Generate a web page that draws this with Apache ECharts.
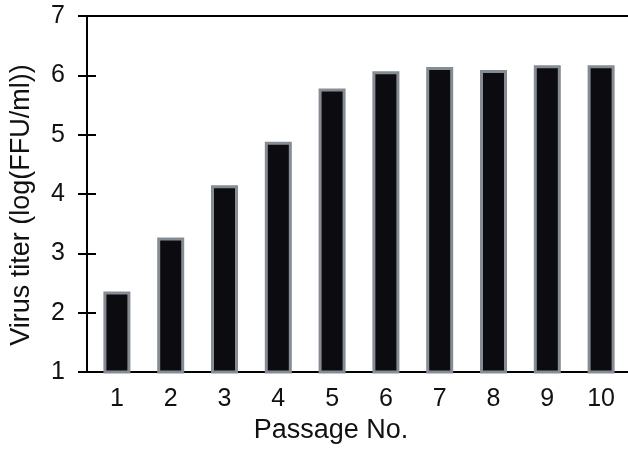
<!DOCTYPE html>
<html>
<head>
<meta charset="utf-8">
<script src="https://cdn.jsdelivr.net/npm/echarts@6/dist/echarts.min.js"></script>
<style>
  html, body { margin: 0; padding: 0; background: #fff; }
  #chart { width: 628px; height: 449px; }
</style>
</head>
<body>
<div id="chart"></div>
<script>
// passage numbers and the titer
const passages = ['1', '2', '3', '4', '5', '6', '7', '8', '9', '10'];
const titers = [2.36, 3.27, 4.15, 4.88, 5.78, 6.07, 6.14, 6.09, 6.17, 6.17];

const yMin = 1;
const yMax = 7;
const yStep = 1;

const font = 'Liberation Sans, Arial, sans-serif';

const chart = echarts.init(document.getElementById('chart'), null, { renderer: 'canvas' });

chart.setOption({
    animation: false,
    grid: { left: 90, right: 0, top: 16, bottom: 75 },
    xAxis: [
        {
            type: 'category',
            data: passages,
            position: 'bottom',
            axisLine: { lineStyle: { color: '#000', width: 2 } },
            axisTick: { show: false },
            axisLabel: { color: '#111', fontSize: 25, fontFamily: font, margin: 15 },
            name: 'Passage No.',
            nameLocation: 'middle',
            nameGap: 44,
            nameTextStyle: { color: '#111', fontSize: 27, fontFamily: font, padding: [0, 56, 0, 0] }
        },
        {
            // line along the top at y = 7
            type: 'category',
            data: passages,
            position: 'top',
            axisLine: { lineStyle: { color: '#000', width: 2 } },
            axisTick: { show: false },
            axisLabel: { show: false }
        }
    ],
    yAxis: [
        {
            type: 'value',
            min: yMin,
            max: yMax,
            interval: yStep,
            offset: 3,
            axisLine: { show: true, lineStyle: { color: '#000', width: 2 } },
            axisTick: { show: true, length: 9, lineStyle: { color: '#000', width: 2 } },
            axisLabel: { color: '#111', fontSize: 25, fontFamily: font, margin: 22 },
            splitLine: { show: false },
            name: 'Virus titer (log(FFU/ml))',
            nameLocation: 'middle',
            nameGap: 52,
            nameTextStyle: { color: '#111', fontSize: 27, fontFamily: font, padding: [0, 22, 0, 0] }
        },
        {
            // inner half of the crossing ticks
            type: 'value',
            min: yMin,
            max: yMax,
            interval: yStep,
            offset: 3,
            position: 'left',
            axisLine: { show: false },
            axisTick: { show: true, inside: true, length: 9, lineStyle: { color: '#000', width: 2 } },
            axisLabel: { show: false },
            splitLine: { show: false }
        }
    ],
    series: [
        {
            type: 'bar',
            data: titers,
            barWidth: 27,
            itemStyle: {
                color: '#0c0c10',
                borderColor: '#858c93',
                borderWidth: 3
            }
        }
    ]
});
</script>
</body>
</html>
